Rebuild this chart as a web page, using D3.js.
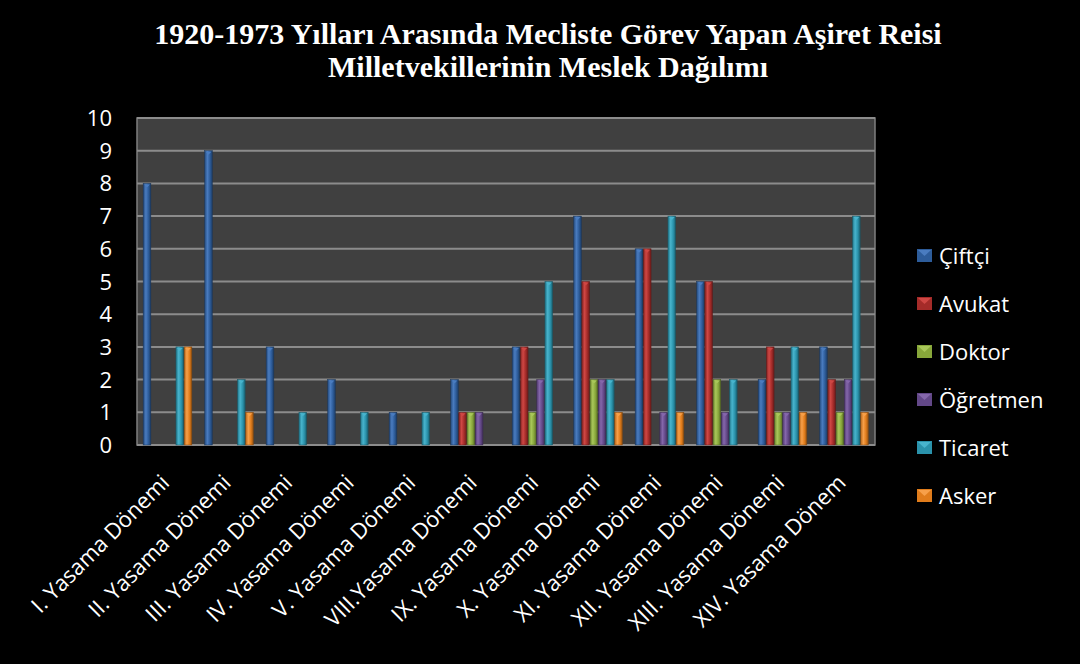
<!DOCTYPE html>
<html>
<head>
<meta charset="utf-8">
<script src="https://cdn.jsdelivr.net/npm/d3@7"></script>
<style>
  body { margin: 0; background: #000; }
  #chart { width: 1080px; height: 664px; }
</style>
</head>
<body>
<div id="chart"></div>
<script>
// donemler
let donemler = ["I. Yasama Dönemi", "II. Yasama Dönemi", "III. Yasama Dönemi", "IV. Yasama Dönemi",
    "V. Yasama Dönemi", "VIII.Yasama Dönemi", "IX. Yasama Dönemi", "X. Yasama Dönemi",
    "XI. Yasama Dönemi", "XII. Yasama Dönemi", "XIII. Yasama Dönemi", "XIV. Yasama Dönem"];
let meslekler = ["Çiftçi", "Avukat", "Doktor", "Öğretmen", "Ticaret", "Asker"];

let ciftci   = [8, 9, 3, 2, 1, 2, 3, 7, 6, 5, 2, 3];
let avukat   = [0, 0, 0, 0, 0, 1, 3, 5, 6, 5, 3, 2];
let doktor   = [0, 0, 0, 0, 0, 1, 1, 2, 0, 2, 1, 1];
let ogretmen = [0, 0, 0, 0, 0, 1, 2, 2, 1, 1, 1, 2];
let ticaret  = [3, 2, 1, 1, 1, 0, 5, 2, 7, 2, 3, 7];
let asker    = [3, 1, 0, 0, 0, 0, 0, 1, 1, 0, 1, 1];
let yTicks = [0, 1, 2, 3, 4, 5, 6, 7, 8, 9, 10];

let seriler = [ciftci, avukat, doktor, ogretmen, ticaret, asker];
let renkler = ["#2d5c9a", "#a42b29", "#87a63a", "#634888", "#2a92ab", "#e07c1b"];
let acik    = ["#4a7cc0", "#cf4744", "#a9c85a", "#8567ab", "#48b4cd", "#f7a04a"];

let width = 1080, height = 664;
let margin = {left: 137, right: 205, top: 118, bottom: 219};

let svg = d3.select("#chart").append("svg")
    .attr("width", width)
    .attr("height", height)
    .style("background", "#000");

// gradyanlar
let defs = svg.append("defs");
renkler.forEach((c, i) => {
    let gr = defs.append("linearGradient").attr("id", "g" + i)
        .attr("x1", 0).attr("x2", 1).attr("y1", 0).attr("y2", 0);
    gr.append("stop").attr("offset", "0%").attr("stop-color", d3.color(c).darker(0.6));
    gr.append("stop").attr("offset", "35%").attr("stop-color", acik[i]);
    gr.append("stop").attr("offset", "70%").attr("stop-color", c);
    gr.append("stop").attr("offset", "100%").attr("stop-color", d3.color(c).darker(1.2));
});

let x = d3.scaleBand().domain(donemler)
    .range([margin.left, width - margin.right]);
// Excel gap width 150% -> yarim bosluk her iki yanda
let xs = d3.scaleBand().domain(d3.range(meslekler.length))
    .range([x.bandwidth() * 0.1, x.bandwidth() * 0.9]);
let y = d3.scaleLinear().domain([0, 10]).range([height - margin.bottom, margin.top]);

// plot alani
svg.append("rect")
    .attr("x", margin.left).attr("y", margin.top)
    .attr("width", width - margin.left - margin.right)
    .attr("height", y(0) - margin.top)
    .attr("fill", "#404040")
    .attr("stroke", "#7f7f7f").attr("stroke-width", 1.5);

svg.selectAll(".grid").data(yTicks).enter()
    .append("line")
    .attr("x1", margin.left).attr("x2", width - margin.right)
    .attr("y1", d => y(d)).attr("y2", d => y(d))
    .attr("stroke", "#8c8c8c").attr("stroke-width", 2);

svg.selectAll(".ylab").data(yTicks).enter()
    .append("text")
    .text(d => d)
    .attr("x", 112).attr("y", d => y(d) + 8)
    .attr("text-anchor", "end")
    .attr("fill", "white")
    .style("font-family", "Open Sans")
    .style("font-size", "22px");

// barlar
seriler.forEach((s, si) => {
    let g = svg.append("g");
    let bars = s.map((v, i) => ({v: v, i: i})).filter(d => d.v > 0);
    g.selectAll("rect").data(bars).enter()
        .append("rect")
        .attr("x", d => x(donemler[d.i]) + xs(si))
        .attr("y", d => y(d.v))
        .attr("width", xs.bandwidth() - 0.5)
        .attr("height", d => y(0) - y(d.v))
        .attr("fill", "url(#g" + si + ")")
        .attr("stroke", d3.color(renkler[si]).darker(1.5))
        .attr("stroke-width", 0.5);
    g.selectAll("path").data(bars).enter()
        .append("path")
        .attr("d", d => {
            let x0 = x(donemler[d.i]) + xs(si), w = xs.bandwidth() - 0.5, y0 = y(d.v);
            return `M${x0 + 1},${y0 + 1}L${x0 + w - 1},${y0 + 1}L${x0 + w / 2},${y0 + 4}Z`;
        })
        .attr("fill", acik[si]);
});

// x etiketleri
svg.selectAll(".xlab").data(donemler).enter()
    .append("text")
    .text(d => d)
    .attr("transform", d => `translate(${x(d) + x.bandwidth() / 2 + 3},${y(0) + 39}) rotate(-45)`)
    .attr("text-anchor", "end")
    .attr("fill", "white")
    .style("font-family", "Open Sans")
    .style("font-size", "22px");

// legend
let lg = svg.selectAll(".leg").data(meslekler).enter()
    .append("g")
    .attr("transform", (d, i) => `translate(917,${256 + i * 48})`);
lg.append("rect")
    .attr("x", 0).attr("y", -7).attr("width", 15).attr("height", 13)
    .attr("fill", (d, i) => renkler[i]);
lg.append("path")
    .attr("d", "M1,-6L14,-6L7.5,0Z")
    .attr("fill", (d, i) => acik[i]);
lg.append("text")
    .text(d => d)
    .attr("x", 22).attr("y", 8)
    .attr("fill", "white")
    .style("font-family", "Open Sans")
    .style("font-size", "22px");

// baslik
svg.append("text")
    .attr("x", 548).attr("y", 44)
    .attr("text-anchor", "middle")
    .attr("fill", "white")
    .style("font-family", "Liberation Serif")
    .style("font-weight", "bold")
    .style("font-size", "30px")
    .text("1920-1973 Yılları Arasında Mecliste Görev Yapan Aşiret Reisi");
svg.append("text")
    .attr("x", 548).attr("y", 77)
    .attr("text-anchor", "middle")
    .attr("fill", "white")
    .style("font-family", "Liberation Serif")
    .style("font-weight", "bold")
    .style("font-size", "30px")
    .text("Milletvekillerinin Meslek Dağılımı");
</script>
</body>
</html>
